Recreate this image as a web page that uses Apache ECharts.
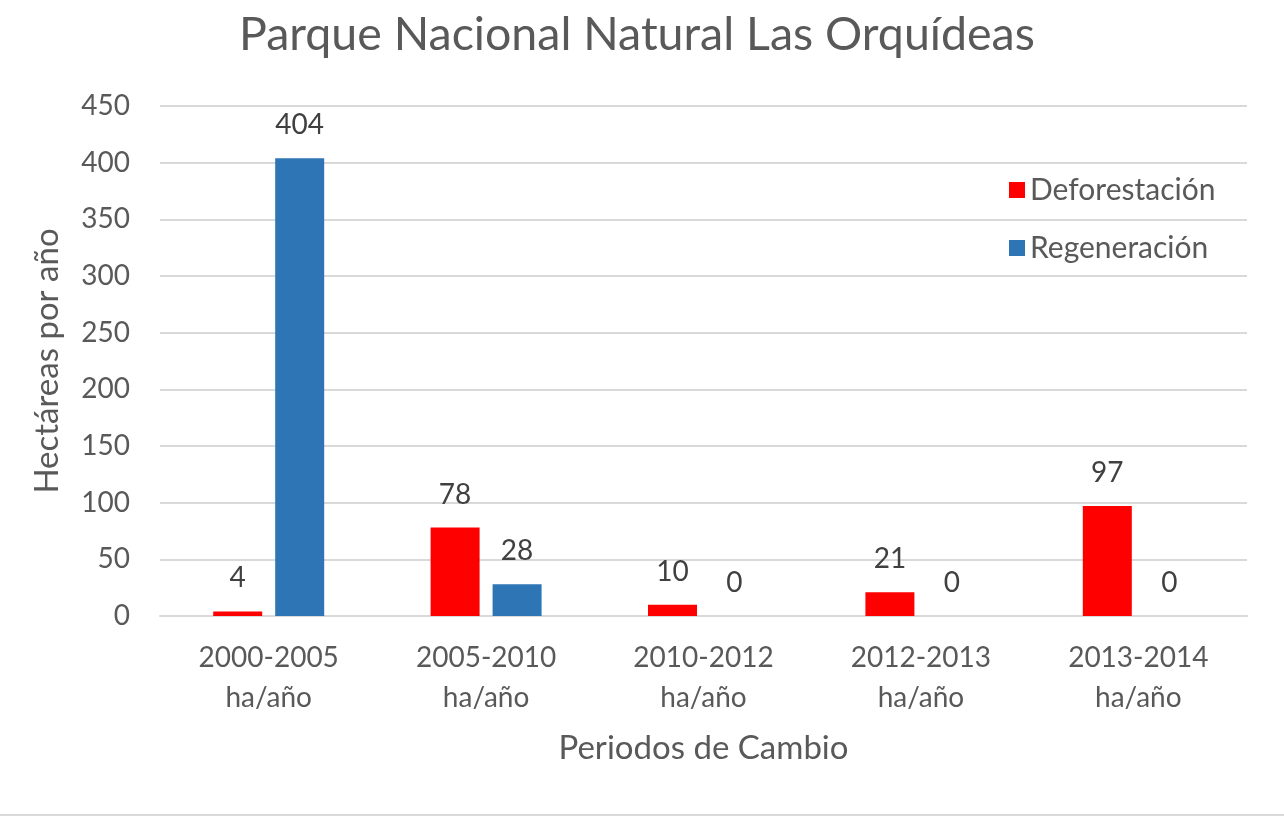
<!DOCTYPE html>
<html>
  <head>
    <meta charset="UTF-8" />
    <title>Parque Nacional Natural Las Orquídeas</title>
    <script src="https://cdn.jsdelivr.net/npm/echarts@6/dist/echarts.min.js"></script>
    <style>
      body {
        padding: 0;
        margin: 0;
        background: #fff;
      }
      #main {
        width: 1284px;
        height: 819px;
      }
    </style>
  </head>
  <body>
    <div id="main"></div>
    <script type="text/javascript">
      var periodos = [
        "2000-2005\nha/año",
        "2005-2010\nha/año",
        "2010-2012\nha/año",
        "2012-2013\nha/año",
        "2013-2014\nha/año"
      ];
      var deforestacion = [4, 78, 10, 21, 97];
      var regeneracion = [404, 28, 0, 0, 0];

      var txt = "#595959";
      var fontFam = "Lato, 'Open Sans', sans-serif";

      var chart = echarts.init(document.getElementById("main"));
      var option = {
        backgroundColor: "#fff",
        textStyle: { fontFamily: fontFam },
        title: {
          text: "Parque Nacional Natural Las Orquídeas",
          left: 234,
          top: 6,
          textStyle: {
            fontSize: 46.5,
            fontWeight: "normal",
            color: txt,
            fontFamily: fontFam
          }
        },
        legend: {
          orient: "vertical",
          left: 1004,
          top: 170,
          itemWidth: 16,
          itemHeight: 16,
          itemGap: 28,
          icon: "rect",
          textStyle: { fontSize: 30, color: txt, fontFamily: fontFam },
          data: ["Deforestación", "Regeneración"]
        },
        grid: {
          left: 160,
          right: 37,
          top: 106,
          bottom: 203
        },
        xAxis: {
          type: "category",
          data: periodos,
          name: "Periodos de Cambio",
          nameLocation: "middle",
          nameGap: 116,
          nameTextStyle: { fontSize: 33, color: txt },
          axisLine: { lineStyle: { color: "#d9d9d9", width: 2 } },
          axisTick: { show: false },
          axisLabel: {
            fontSize: 28,
            color: txt,
            lineHeight: 40,
            margin: 22
          }
        },
        yAxis: {
          type: "value",
          min: 0,
          max: 450,
          interval: 50,
          name: "Hectáreas por año",
          nameLocation: "middle",
          nameGap: 96,
          nameTextStyle: { fontSize: 33, color: txt },
          axisLine: { show: false },
          axisTick: { show: false },
          axisLabel: { fontSize: 28, color: txt, margin: 30 },
          splitLine: { lineStyle: { color: "#d9d9d9", width: 2 } }
        },
        series: [
          {
            name: "Deforestación",
            type: "bar",
            data: deforestacion,
            barWidth: 49,
            barGap: "26.5%",
            itemStyle: { color: "#ff0000" },
            label: {
              show: true,
              position: "top",
              distance: 19,
              fontSize: 28,
              color: "#404040"
            }
          },
          {
            name: "Regeneración",
            type: "bar",
            data: regeneracion,
            barWidth: 49,
            barGap: "26.5%",
            itemStyle: { color: "#2e75b6" },
            label: {
              show: true,
              position: "top",
              distance: 19,
              fontSize: 28,
              color: "#404040"
            }
          }
        ],
        graphic: [
          {
            type: "rect",
            shape: { x: 0, y: 814, width: 1284, height: 2 },
            style: { fill: "#d9d9d9" }
          }
        ]
      };
      chart.setOption(option);
    </script>
  </body>
</html>
